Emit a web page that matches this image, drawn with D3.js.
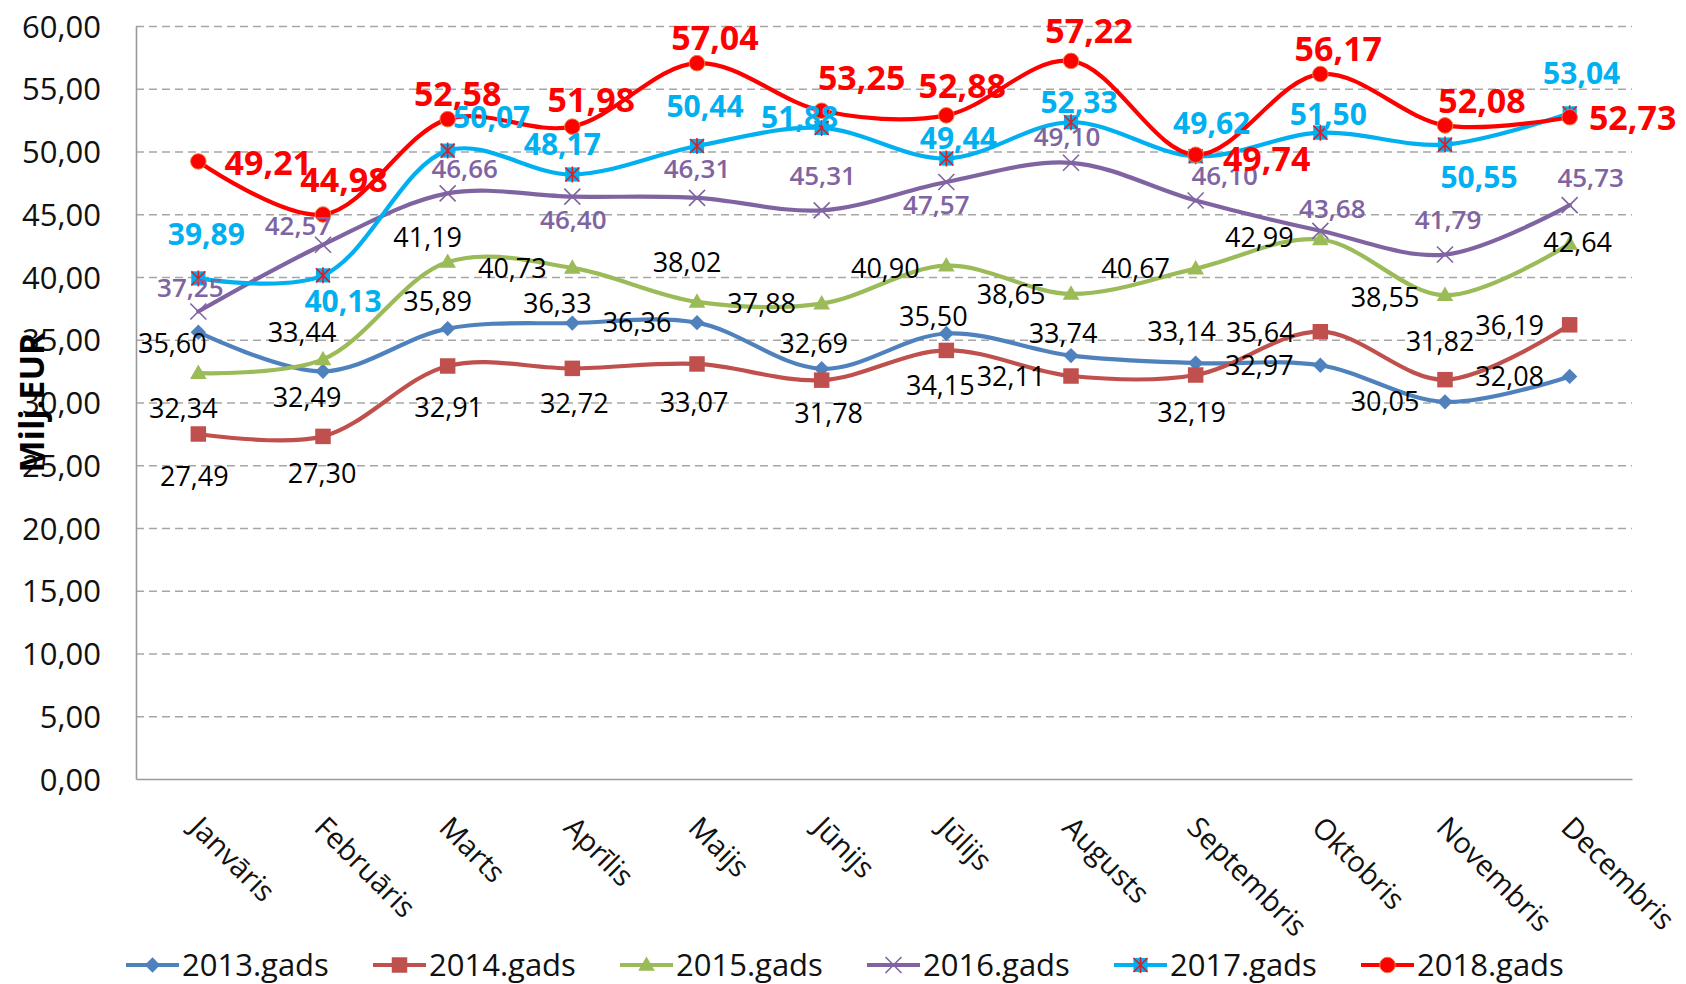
<!DOCTYPE html>
<html>
<head>
<meta charset="utf-8">
<script src="https://cdn.jsdelivr.net/npm/d3@7"></script>
<style>
  body { margin: 0; background: #fff; }
  svg text { font-family: "Open Sans", "Noto Sans", sans-serif; }
</style>
</head>
<body>
<div id="chart"></div>
<script>
const months = ["Janvāris", "Februāris", "Marts", "Aprīlis", "Maijs", "Jūnijs",
  "Jūlijs", "Augusts", "Septembris", "Oktobris", "Novembris", "Decembris"];
const years = ["2013.gads", "2014.gads", "2015.gads", "2016.gads", "2017.gads", "2018.gads"];

const v2013 = [35.60, 32.49, 35.89, 36.33, 36.36, 32.69, 35.50, 33.74, 33.14, 32.97, 30.05, 32.08];
const v2014 = [27.49, 27.30, 32.91, 32.72, 33.07, 31.78, 34.15, 32.11, 32.19, 35.64, 31.82, 36.19];
const v2015 = [32.34, 33.44, 41.19, 40.73, 38.02, 37.88, 40.90, 38.65, 40.67, 42.99, 38.55, 42.64];
const v2016 = [37.25, 42.57, 46.66, 46.40, 46.31, 45.31, 47.57, 49.10, 46.10, 43.68, 41.79, 45.73];
const v2017 = [39.89, 40.13, 50.07, 48.17, 50.44, 51.88, 49.44, 52.33, 49.62, 51.50, 50.55, 53.04];
const v2018 = [49.21, 44.98, 52.58, 51.98, 57.04, 53.25, 52.88, 57.22, 49.74, 56.17, 52.08, 52.73];

const yTicks = [0, 5, 10, 15, 20, 25, 30, 35, 40, 45, 50, 55, 60];

// where each data label sits relative to its point (manual placement as in the original)
const labelNudge = {
  "2013.gads": [[-26,11],[-16,26],[-10,-27],[-15,-20],[-60,0],[-8,-25],[-13,-17],[-8,-22],[-14,-32],[-61,0],[-60,-1],[-60,0]],
  "2014.gads": [[-4,42],[-1,37],[1,41],[2,35],[-3,38],[7,33],[-6,35],[-60,0],[-4,37],[-60,1],[-5,-38],[-60,0]],
  "2015.gads": [[-15,35],[-21,-27],[-20,-25],[-60,0],[-10,-40],[-60,0],[-61,3],[-60,0],[-60,0],[-61,-2],[-60,2],[8,-2]],
  "2016.gads": [[-8,-24],[-25,-19],[17,-25],[1,23],[0,-29],[1,-35],[-10,23],[-4,-26],[29,-25],[12,-22],[3,-35],[21,-27]],
  "2017.gads": [[8,-44],[20,26],[44,-33],[-10,-30],[8,-40],[-22,-11],[12,-20],[8,-20],[16,-33],[8,-18],[34,33],[12,-40]],
  "2018.gads": [[70,1],[21,-35],[10,-25],[19,-27],[18,-25],[40,-33],[16,-30],[18,-30],[71,4],[18,-25],[37,-25],[63,1]]
};

const series = [
  { name: years[0], values: v2013, color: "#4F81BD", marker: "diamond", label: { fill: "#000", size: 27, weight: 400 } },
  { name: years[1], values: v2014, color: "#C0504D", marker: "square", label: { fill: "#000", size: 27, weight: 400 } },
  { name: years[2], values: v2015, color: "#9BBB59", marker: "triangle", label: { fill: "#000", size: 27, weight: 400 } },
  { name: years[3], values: v2016, color: "#8064A2", marker: "times", label: { fill: "#8064A2", size: 26, weight: 600 } },
  { name: years[4], values: v2017, color: "#00B0F0", marker: "star", label: { fill: "#00B0F0", size: 30, weight: 700 } },
  { name: years[5], values: v2018, color: "#FF0000", marker: "circle", label: { fill: "#FF0000", size: 34, weight: 700 } }
];

const width = 1686,
  height = 984,
  margin = { top: 26, right: 54, bottom: 205, left: 136 };

const lv = d3.formatLocale({ decimal: ",", thousands: " ", grouping: [3], currency: ["", "€"] });
const fmt = lv.format(".2f");

const svg = d3.select("#chart")
  .append("svg")
  .attr("width", width)
  .attr("height", height)
  .attr("viewBox", [0, 0, width, height]);

const x = d3.scaleBand()
  .domain(months)
  .range([margin.left, width - margin.right])
  .padding(0);

const cx = (m) => x(m) + x.bandwidth() / 2;

const y = d3.scaleLinear()
  .domain([0, 60])
  .range([height - margin.bottom, margin.top]);

// dashed gridlines
svg.append("g")
  .attr("class", "grid")
  .attr("transform", `translate(${margin.left},0)`)
  .call(d3.axisLeft(y).tickValues(yTicks.filter((d) => d > 0)).tickSize(-(width - margin.left - margin.right)).tickFormat(""))
  .call((g) => g.select(".domain").remove())
  .call((g) => g.selectAll("line")
    .attr("stroke", "#a6a6a6")
    .attr("stroke-width", 1.6)
    .attr("stroke-dasharray", "8,5"));

// y axis
svg.append("g")
  .attr("transform", `translate(${margin.left},0)`)
  .call(d3.axisLeft(y).tickValues(yTicks).tickSize(0).tickSizeOuter(0).tickPadding(35).tickFormat(fmt))
  .call((g) => g.select(".domain").attr("stroke", "#9a9a9a").attr("stroke-width", 1.6))
  .call((g) => g.selectAll("text")
    .attr("font-size", 31)
    .attr("fill", "#111")
    .attr("dy", "0.36em"));

// x axis, labels turned 45 degrees
svg.append("g")
  .attr("transform", `translate(0,${height - margin.bottom})`)
  .call(d3.axisBottom(x).tickSize(0).tickSizeOuter(0))
  .call((g) => g.select(".domain").attr("stroke", "#9a9a9a").attr("stroke-width", 1.6))
  .call((g) => g.selectAll("text")
    .attr("font-size", 29)
    .attr("fill", "#111")
    .attr("text-anchor", "start")
    .attr("y", 0)
    .attr("dy", "0.74em")
    .attr("transform", "translate(5,35) rotate(45)"));

// y axis title
svg.append("text")
  .attr("transform", `translate(32,${(margin.top + height - margin.bottom) / 2}) rotate(-90)`)
  .attr("text-anchor", "middle")
  .attr("dy", "0.36em")
  .attr("font-size", 34)
  .attr("font-weight", 700)
  .attr("fill", "#000")
  .text("Milj.EUR");

function drawMarker(g, s) {
  if (s.marker === "diamond") {
    g.append("path")
      .attr("d", d3.symbol(d3.symbolSquare, 118)())
      .attr("transform", "rotate(45)")
      .attr("fill", s.color);
  } else if (s.marker === "square") {
    g.append("path").attr("d", d3.symbol(d3.symbolSquare, 240)()).attr("fill", s.color);
  } else if (s.marker === "triangle") {
    g.append("path")
      .attr("d", d3.symbol(d3.symbolTriangle, 120)())
      .attr("transform", "translate(0,1)")
      .attr("fill", s.color);
  } else if (s.marker === "times") {
    const p = d3.path();
    p.moveTo(-8, -8); p.lineTo(8, 8);
    p.moveTo(-8, 8); p.lineTo(8, -8);
    g.append("path").attr("d", p.toString()).attr("stroke", s.color).attr("stroke-width", 1.6).attr("fill", "none");
  } else if (s.marker === "star") {
    g.append("path").attr("d", d3.symbol(d3.symbolSquare, 200)()).attr("fill", s.color);
    const p = d3.path();
    p.moveTo(-7, -7); p.lineTo(7, 7);
    p.moveTo(-7, 7); p.lineTo(7, -7);
    p.moveTo(0, -8); p.lineTo(0, 8);
    g.append("path").attr("d", p.toString()).attr("stroke", "#D8202A").attr("stroke-width", 1.6).attr("fill", "none");
  } else if (s.marker === "circle") {
    g.append("path")
      .attr("d", d3.symbol(d3.symbolCircle, 190)())
      .attr("fill", s.color)
      .attr("stroke", "#F08040")
      .attr("stroke-width", 1);
  }
}

const line = d3.line()
  .x((d) => cx(d.month))
  .y((d) => y(d.value))
  .curve(d3.curveCatmullRom.alpha(0.5));

// lines and markers
for (let s of series) {
  const pts = s.values.map((v, i) => ({ month: months[i], value: v }));
  const g = svg.append("g").attr("class", "series");

  g.append("path")
    .datum(pts)
    .attr("d", line)
    .attr("fill", "none")
    .attr("stroke", s.color)
    .attr("stroke-width", 4.2)
    .attr("stroke-linecap", "round");

  g.selectAll(".pt")
    .data(pts)
    .join("g")
    .attr("class", "pt")
    .attr("transform", (d) => `translate(${cx(d.month)},${y(d.value)})`)
    .each(function () { drawMarker(d3.select(this), s); });
}

// data labels on top
for (let s of series) {
  const nudge = labelNudge[s.name];
  svg.append("g")
    .selectAll("text")
    .data(s.values)
    .join("text")
    .attr("x", (d, i) => cx(months[i]) + nudge[i][0])
    .attr("y", (d, i) => y(d) + nudge[i][1])
    .attr("dy", "0.36em")
    .attr("text-anchor", "middle")
    .attr("font-size", s.label.size)
    .attr("font-weight", s.label.weight)
    .attr("fill", s.label.fill)
    .text((d) => fmt(d));
}

// legend
const legend = svg.append("g")
  .attr("transform", `translate(126,${height - 19})`);

series.forEach((s, i) => {
  const item = legend.append("g").attr("transform", `translate(${i * 247},0)`);
  item.append("line")
    .attr("x1", 0).attr("x2", 53)
    .attr("stroke", s.color)
    .attr("stroke-width", 4.2);
  const mk = item.append("g").attr("transform", "translate(26.5,0)");
  drawMarker(mk, s);
  item.append("text")
    .attr("x", 56)
    .attr("dy", "0.36em")
    .attr("font-size", 31)
    .attr("fill", "#111")
    .text(s.name);
});
</script>
</body>
</html>
